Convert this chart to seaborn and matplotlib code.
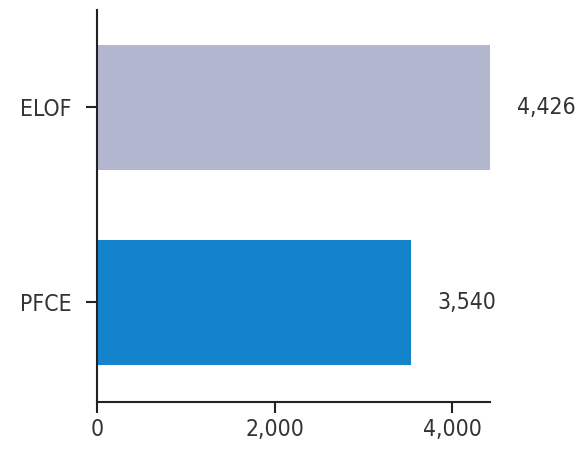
import pandas as pd
import matplotlib.pyplot as plt
import seaborn as sns

# values
categories = ['ELOF', 'PFCE']
values = [4426, 3540]
bar_colors = ['#b3b6cf', '#1384cc']

df = pd.DataFrame({'category': categories, 'value': values})

sns.set_style('ticks')
plt.rcParams['font.family'] = ['DejaVu Sans']
plt.rcParams['font.stretch'] = 'condensed'
plt.rcParams['xtick.color'] = '#222222'
plt.rcParams['ytick.color'] = '#222222'
plt.rcParams['xtick.labelcolor'] = '#333333'
plt.rcParams['ytick.labelcolor'] = '#333333'

fig, ax = plt.subplots(figsize=(5.87, 4.49), dpi=100)
sns.barplot(data=df, x='value', y='category', hue='category',
            palette=bar_colors, width=0.64, saturation=1, legend=False,
            ax=ax, edgecolor='none')

for i, v in enumerate(values):
    ax.annotate(f'{v:,}', xy=(v, i), xytext=(19, 0), textcoords='offset points',
                ha='left', va='center', fontsize=16.5, color='#333333')

ax.set_xlim(0, max(values))
ax.set_ylim(1.51, -0.5)
ax.set_xticks([0, 2000, 4000])
ax.set_xticklabels(['0', '2,000', '4,000'])
ax.tick_params(axis='both', labelsize=16.5, length=8, width=1.5)
ax.tick_params(axis='y', pad=10)
ax.set_xlabel('')
ax.set_ylabel('')
for s in ['top', 'right']:
    ax.spines[s].set_visible(False)
for s in ['left', 'bottom']:
    ax.spines[s].set_linewidth(1.5)
    ax.spines[s].set_color('#222222')

fig.subplots_adjust(left=0.165, right=0.835, top=0.978, bottom=0.105)
fig.savefig('out.png', dpi=100)
